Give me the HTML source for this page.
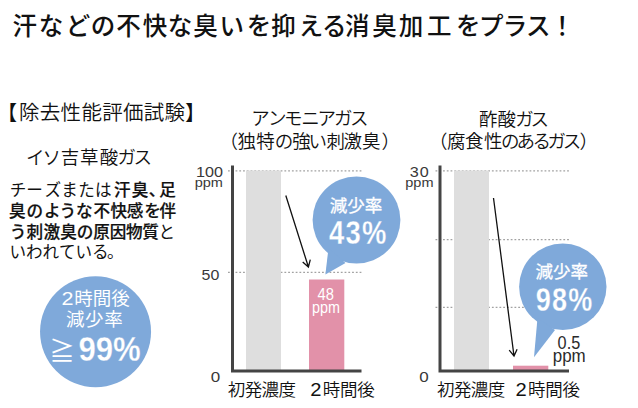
<!DOCTYPE html>
<html lang="ja">
<head>
<meta charset="utf-8">
<title>消臭加工</title>
<style>
html,body{margin:0;padding:0;background:#fff;}
body{width:638px;height:408px;overflow:hidden;}
svg{display:block;font-family:'Liberation Sans', 'Noto Sans CJK JP', sans-serif;}
</style>
</head>
<body>
<svg width="638" height="408" viewBox="0 0 638 408">
<rect width="638" height="408" fill="#fff"/>
<text x="12.6 38.7 65.7 90.8 116.2 142.8 167.7 193.2 219.6 246.8 271.2 298.7 322.0 345.1 372.3 398.7 426.9 456.0 479.1 502.7 525.9 549.9" y="35" font-size="24.5" font-weight="500" fill="#111">汗などの不快な臭いを抑える消臭加工をプラス！</text>
<text x="-3.3 19.0 39.8 60.6 81.4 102.2 123.0 143.8 164.6 184.9" y="120" font-size="20.5" font-weight="350" fill="#111">【除去性能評価試験】</text>
<text x="25.9 42.6 60.7 79.9 99.7 117.5 133.5" y="163.5" font-size="18.5" font-weight="350" fill="#111">イソ吉草酸ガス</text>
<text font-size="16.6" font-weight="400" fill="#111"><tspan x="9.8 26.3 44.4 61.2 78.3 94.9" y="196">チーズまたは</tspan><tspan x="114.1 131.8 148.7 159.3" y="196" font-weight="500" stroke="#111" stroke-width="0.2" stroke-linejoin="round">汗臭、足</tspan><tspan x="9.0 26.5 44.1 59.6 76.1 93.6 110.6 126.8 144.2 159.5" y="217" font-weight="500" stroke="#111" stroke-width="0.2" stroke-linejoin="round">臭のような不快感を伴</tspan><tspan x="9.7 26.5 43.5 60.3 76.8 93.2 109.7 126.0 142.3" y="237.5" font-weight="500" stroke="#111" stroke-width="0.2" stroke-linejoin="round">う刺激臭の原因物質</tspan><tspan x="158.5" y="237.5">と</tspan><tspan x="9.5 26.0 42.5 59.0 75.5 92.0 107.0" y="258">いわれている。</tspan></text>
<circle cx="95.55" cy="331.8" r="55.5" fill="#7fa9da"/>
<text y="305.2" font-size="18.5" font-weight="400" fill="#fff"><tspan x="61.5" font-size="18" textLength="12" lengthAdjust="spacingAndGlyphs">2</tspan><tspan x="74.3 92.8 111.3">時間後</tspan></text>
<text x="66 85 104.3" y="325.8" font-size="18.5" font-weight="400" fill="#fff">減少率</text>
<text fill="#fff"><tspan x="49.3" y="359.6" font-size="25.5" font-weight="400">≧</tspan><tspan x="78.4" y="361.2" font-size="35.5" font-weight="700" stroke="#7fa9da" stroke-width="0.3" textLength="62.3" lengthAdjust="spacingAndGlyphs">99%</tspan></text>
<line x1="228.0" y1="170.9" x2="361.5" y2="170.9" stroke="#a2a2a2" stroke-width="1.3" stroke-dasharray="1.8 1.96"/>
<line x1="228.0" y1="272.4" x2="361.5" y2="272.4" stroke="#a2a2a2" stroke-width="1.3" stroke-dasharray="1.8 1.96"/>
<rect x="246" y="170.5" width="35" height="200" fill="#dedede"/>
<rect x="309" y="279.5" width="35.3" height="91.0" fill="#e291a9"/>
<path d="M232.5 165.5 V371 H361.5" fill="none" stroke="#444" stroke-width="3"/>
<text x="251.2 267.9 284 301.2 317.5 334 350" y="125" font-size="18.5" font-weight="350" fill="#111">アンモニアガス</text>
<text x="219.5 237.4 256.2 274.8 292.3 308.4 326.4 343.4 362 381.5" y="148" font-size="18.5" font-weight="350" fill="#111">（独特の強い刺激臭）</text>
<text x="227.8" y="396" font-size="17.5" font-weight="350" fill="#111" letter-spacing="-0.6">初発濃度</text>
<text y="396" font-size="17.5" font-weight="350" fill="#111"><tspan x="310.3" textLength="11.2" lengthAdjust="spacingAndGlyphs">2</tspan><tspan x="322.7 340.0 357.3">時間後</tspan></text>
<line x1="435.5" y1="170.9" x2="569" y2="170.9" stroke="#a2a2a2" stroke-width="1.3" stroke-dasharray="1.8 1.96"/>
<line x1="435.5" y1="239.6" x2="569" y2="239.6" stroke="#a2a2a2" stroke-width="1.3" stroke-dasharray="1.8 1.96"/>
<line x1="435.5" y1="307.3" x2="569" y2="307.3" stroke="#a2a2a2" stroke-width="1.3" stroke-dasharray="1.8 1.96"/>
<rect x="454" y="170.5" width="35" height="200" fill="#dedede"/>
<rect x="513" y="365.7" width="35.3" height="4.800000000000011" fill="#e291a9"/>
<path d="M440 165.5 V371 H569" fill="none" stroke="#444" stroke-width="3"/>
<text x="479 497.5 515.3 530.5" y="125.5" font-size="18.5" font-weight="350" fill="#111">酢酸ガス</text>
<text x="429 447 465 484 501 516.5 532.5 547.5 562.7 579.5" y="148" font-size="18.5" font-weight="350" fill="#111">（腐食性のあるガス）</text>
<text x="437.0" y="396" font-size="17.5" font-weight="350" fill="#111" letter-spacing="-0.6">初発濃度</text>
<text y="396" font-size="17.5" font-weight="350" fill="#111"><tspan x="515.5" textLength="11.2" lengthAdjust="spacingAndGlyphs">2</tspan><tspan x="527.9 545.2 562.5">時間後</tspan></text>
<text transform="translate(209.4 176.7) scale(1.05 1)" text-anchor="middle" font-size="15.4" font-weight="400" fill="#383838">100</text>
<text transform="translate(208.8 187) scale(1.1 1)" text-anchor="middle" font-size="13.2" font-weight="400" fill="#383838">ppm</text>
<text transform="translate(210.4 279.9) scale(1.05 1)" text-anchor="middle" font-size="15.2" font-weight="400" fill="#383838">50</text>
<text transform="translate(215.4 381.8) scale(1.12 1)" text-anchor="middle" font-size="15.2" font-weight="400" fill="#383838">0</text>
<text transform="translate(419.7 176.7) scale(1.05 1)" text-anchor="middle" font-size="15.4" font-weight="400" fill="#383838" letter-spacing="1.0">30</text>
<text transform="translate(419.4 187) scale(1.1 1)" text-anchor="middle" font-size="13.2" font-weight="400" fill="#383838">ppm</text>
<text transform="translate(424.1 381.6) scale(1.12 1)" text-anchor="middle" font-size="15.2" font-weight="400" fill="#383838">0</text>
<path d="M285.8 195.5 L308.4 267 M302.7 262.1 L308.4 267 L310.3 259.7" fill="none" stroke="#111" stroke-width="1.3"/>
<path d="M493.5 198 L514 356 M509.2 350.2 L514 356 L517.1 349.2" fill="none" stroke="#111" stroke-width="1.3"/>
<ellipse cx="356.5" cy="220" rx="43.9" ry="43.5" fill="#7fa9da"/>
<path d="M328.5 248 L325.4 274.6 L345.5 263 Z" fill="#7fa9da"/>
<ellipse cx="562.8" cy="286.7" rx="43.7" ry="43.3" fill="#7fa9da"/>
<path d="M537.5 318 L534 357.2 L555 330 Z" fill="#7fa9da"/>
<text x="356" y="212.3" font-size="17.5" font-weight="400" fill="#fff" text-anchor="middle" stroke="#fff" stroke-width="0.3">減少率</text>
<text transform="translate(358.3 243.7) scale(0.83 1)" text-anchor="middle" font-size="33" font-weight="700" fill="#fff" stroke="#7fa9da" stroke-width="0.3" letter-spacing="1.5">43%</text>
<text x="561.8" y="278" font-size="17.5" font-weight="400" fill="#fff" text-anchor="middle" stroke="#fff" stroke-width="0.3">減少率</text>
<text transform="translate(564.7 311.2) scale(0.82 1)" text-anchor="middle" font-size="33" font-weight="700" fill="#fff" stroke="#7fa9da" stroke-width="0.3" letter-spacing="1.5">98%</text>
<text transform="translate(325.7 299.8) scale(0.92 1)" text-anchor="middle" font-size="16" font-weight="400" fill="#fff">48</text>
<text transform="translate(326 312.7) scale(0.87 1)" text-anchor="middle" font-size="16.5" font-weight="400" fill="#fff">ppm</text>
<text transform="translate(568.9 348.8) scale(0.93 1)" text-anchor="middle" font-size="17.5" font-weight="400" fill="#2a2a2a">0.5</text>
<text transform="translate(569.2 361.9) scale(0.97 1)" text-anchor="middle" font-size="17.5" font-weight="400" fill="#2a2a2a">ppm</text>
</svg>
</body>
</html>
